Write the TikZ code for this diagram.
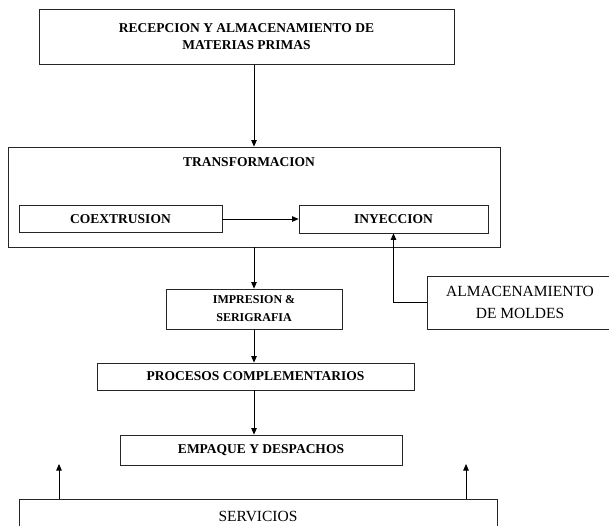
\documentclass[tikz,border=0pt]{standalone}
\usepackage{fontspec}
\setmainfont{Liberation Serif}
\usepackage{tikz}
\usetikzlibrary{arrows.meta}
\usetikzlibrary{calc}
\tikzset{
    box/.style={draw=black!85, line width=0.8pt, align=center, inner sep=0pt},
    bfont/.style={font=\fontsize{13.5}{17}\selectfont\bfseries},
    rfont/.style={font=\fontsize{15.5}{22}\selectfont},
    arr/.style={line width=0.8pt, -{Triangle[length=6.5pt,width=5.5pt]}}
}

\begin{document}
\begin{tikzpicture}[x=1pt,y=-1pt]
\clip (0,0) rectangle (609,525);
\foreach \x/\y/\w/\h/\p/\s/\labeltext in {246.5/37/415/55/recep/bfont/{RECEPCION Y ALMACENAMIENTO DE\\MATERIAS PRIMAS}, 254/197/492/100/transf/bfont/{}, 120.5/219/203/27/coex/bfont/{COEXTRUSION}, 393.5/219/189/28/iny/bfont/{INYECCION}, 255.5/376.5/317/27/proc/bfont/{PROCESOS COMPLEMENTARIOS}, 261/450/282/30/emp/bfont/{EMPAQUE Y DESPACHOS}, 520/302.5/186/53/almac/rfont/{ALMACENAMIENTO\\DE MOLDES}, 258/516/478/34/serv/rfont/{SERVICIOS}}{
    \node[box, \s, minimum width=\w, minimum height=\h] (\p) at (\x,\y) {\labeltext};
}
\node[box, minimum width=176, minimum height=40, font=\fontsize{12}{18}\selectfont\bfseries] (impr) at (254,309) {IMPRESION \&\\SERIGRAFIA};
\node[bfont] (transflabel) at (249,162) {TRANSFORMACION};
\coordinate (sl) at (59,464);
\coordinate (sr) at (466,464);
\draw[arr] (recep.south -| transf.north) -- (transf.north);
\draw[arr] (coex.east) -- (iny.west);
\draw[arr] (transf.south) -- (impr.north);
\draw[arr] (almac.west) -| (iny.south);
\draw[arr] (impr.south) -- (impr.south |- proc.north);
\draw[arr] (impr.south |- proc.south) -- (impr.south |- emp.north);
\draw[arr] (serv.north -| sl) -- (sl);
\draw[arr] (serv.north -| sr) -- (sr);
\end{tikzpicture}
\end{document}
